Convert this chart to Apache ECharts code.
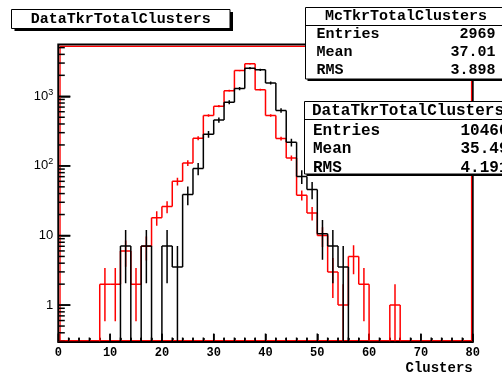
<!DOCTYPE html>
<html><head><meta charset="utf-8">
<script src="https://cdn.jsdelivr.net/npm/echarts@6/dist/echarts.min.js"></script>
<style>html,body{margin:0;padding:0;background:#fff}#c{width:502px;height:375px}</style>
</head><body><div id="c"></div>
<script>
// ---- data ----
const binStarts = [0,2,4,6,8,10,12,14,16,18,20,22,24,26,28,30,32,34,36,38,
                   40,42,44,46,48,50,52,54,56,58,60,62,64,66,68,70,72,74,76,78];
const binWidth = 2;
// black histogram
const blackCounts = [0,0,0,0,0,0,7.05,0,7.05,0,7.05,3.52,38.8,91.6,285,455,821,1289,2537,2399,
                     1550,627,218,70.5,45.8,10.6,7.05,3.52,0,0,0,0,0,0,0,0,0,0,0,0];
// red histogram
const redCounts = [0,0,0,0,2,2,6,2,7,18,26,60,110,250,531,721,1205,2345,2924,1245,
                   531,247,130,38,21,10,3,1,5,2,0,0,1,0,0,0,0,0,0,0];
const blackWeight = 10460 / 2969;   // per-entry weight of the black histogram
const redWeight = 1;
const xTicks = [0,10,20,30,40,50,60,70,80];
const xMinorTicks = [2,4,6,8,12,14,16,18,22,24,26,28,32,34,36,38,42,44,46,48,
                     52,54,56,58,62,64,66,68,72,74,76,78];
const yMajorTicks = [1,10,100,1000];
const yMinorTicks = [0.3,0.4,0.5,0.6,0.7,0.8,0.9,2,3,4,5,6,7,8,9,20,30,40,50,60,70,80,90,
                     200,300,400,500,600,700,800,900,2000,3000,4000,5000];
const titleText = 'DataTkrTotalClusters';
const mcStats = {name:'McTkrTotalClusters', rows:[['Entries','2969'],['Mean','37.01'],['RMS','3.898']]};
const dataStats = {name:'DataTkrTotalClusters', rows:[['Entries','10460'],['Mean','35.49'],['RMS','4.191']]};

const Y_MIN = 0.295, Y_MAX = 5545;
const MONO = '"Liberation Mono","DejaVu Sans Mono",monospace';
const SANS = '"Liberation Sans",Arial,sans-serif';

function lineEl(x1, y1, x2, y2, color, w) {
  return {type: 'line', shape: {x1: x1, y1: y1, x2: x2, y2: y2}, style: {stroke: color, lineWidth: w}};
}
function barEl(x, y, w, h) {
  return {type: 'rect', shape: {x: x, y: y, width: w, height: h}, style: {fill: '#000'}};
}

function histSeries(name, counts, color, weight, z) {
  const data = counts.map((v, i) => [binStarts[i], binStarts[i] + binWidth, v,
      i > 0 ? counts[i-1] : 0]);
  return {
    type: 'custom', name, data, z, clip: true,
    encode: {x: [0, 1], y: 2},
    renderItem(params, api) {
      const x0 = api.value(0), x1 = api.value(1), v = api.value(2), pv = api.value(3);
      const bottom = api.coord([x0, Y_MIN])[1];
      const yOf = val => val > 0 ? api.coord([x0, Math.max(val, Y_MIN)])[1] : bottom;
      const px0 = api.coord([x0, 1])[0], px1 = api.coord([x1, 1])[0];
      const yv = yOf(v), yp = yOf(pv);
      const kids = [
        lineEl(px0, yv, px1, yv, color, 1.5),
        lineEl(px0, yp, px0, yv, color, 1.5)
      ];
      if (v > 0) {
        const err = Math.sqrt(v * weight);
        const xc = (px0 + px1) / 2;
        kids.push(lineEl(xc, yOf(v - err), xc, yOf(v + err), color, 1.5));
      }
      return {type: 'group', children: kids};
    }
  };
}

function statsBox(s, left, top, right, divY, rowYs, valRight, fontSize, headerCx, labelX, headerY) {
  const w = right - left, h = rowYs.bottom - top;
  const font = 'bold ' + fontSize + 'px ' + MONO;
  const els = [
    {type: 'rect', z: 100, shape: {x: left + 2, y: top + 2, width: w, height: h}, style: {fill: '#000'}},
    {type: 'rect', z: 101, shape: {x: left, y: top, width: w, height: h}, style: {fill: '#fff', stroke: '#000', lineWidth: 1}},
    {type: 'line', z: 102, shape: {x1: left, y1: divY, x2: right, y2: divY}, style: {stroke: '#000', lineWidth: 1}},
    {type: 'text', z: 103, style: {text: s.name, x: headerCx, y: headerY, textAlign: 'center', textVerticalAlign: 'middle', font, fill: '#000'}}
  ];
  s.rows.forEach((r, i) => {
    els.push({type: 'text', z: 103, style: {text: r[0], x: labelX, y: rowYs.ys[i], textAlign: 'left', textVerticalAlign: 'middle', font, fill: '#000'}});
    els.push({type: 'text', z: 103, style: {text: r[1], x: valRight, y: rowYs.ys[i], textAlign: 'right', textVerticalAlign: 'middle', font, fill: '#000'}});
  });
  return els;
}

const xMin = xTicks[0], xMax = xTicks[xTicks.length-1];

const chart = echarts.init(document.getElementById('c'), null, {renderer: 'canvas'});
const option = {
  animation: false,
  backgroundColor: '#fff',
  grid: {left: 58.3, right: 29.3, top: 44.5, bottom: 30.5, show: false},
  xAxis: {
    type: 'value', min: xMin, max: xMax, interval: 10,
    axisLine: {show: false},
    axisTick: {show: true, inside: true, length: 8, lineStyle: {color: '#000', width: 1.5}},
    minorTick: {show: true, splitNumber: 5, length: 4, lineStyle: {color: '#000', width: 1.5}},
    splitLine: {show: false},
    axisLabel: {margin: 5, color: '#000', fontFamily: MONO, fontWeight: 'bold', fontSize: 12},
    name: 'Clusters', nameLocation: 'end', nameGap: 0,
    nameTextStyle: {align: 'right', verticalAlign: 'top', padding: [19, 0, 0, 0], color: '#000', fontFamily: MONO, fontWeight: 'bold', fontSize: 14}
  },
  yAxis: {
    type: 'log', logBase: 10, min: Y_MIN, max: Y_MAX,
    axisLine: {show: false},
    axisTick: {show: true, inside: true, length: 12, lineStyle: {color: '#000', width: 1.5}},
    splitLine: {show: false},
    axisLabel: {
      margin: 5, showMinLabel: false, showMaxLabel: false, color: '#000',
      formatter: v => {
        const e = Math.round(Math.log10(v));
        if (Math.abs(Math.log10(v) - e) > 1e-6) return '';
        if (e === 0) return '{b|1}';
        if (e === 1) return '{b|10}';
        return '{b|10}{s|' + e + '}';
      },
      rich: {
        b: {fontFamily: SANS, fontSize: 13, lineHeight: 13, verticalAlign: 'bottom', color: '#000'},
        s: {fontFamily: SANS, fontSize: 9, lineHeight: 9, padding: [0, 0, 6, 0], verticalAlign: 'bottom', color: '#000'}
      }
    }
  },
  series: [
    {
      type: 'custom', clip: false,
      data: [[xMin, Y_MIN]],
      encode: {x: 0, y: 1},
      renderItem(params, api) {
        const a = api.coord([xMin, Y_MAX]);
        const b = api.coord([xMax, Y_MIN]);
        const kids = [
          {type: 'rect', shape: {x: a[0], y: a[1], width: b[0] - a[0], height: b[1] - a[1]},
           style: {stroke: '#000', fill: null, lineWidth: 2}},
          {type: 'rect', shape: {x: a[0] + 1.8, y: a[1] + 1.8, width: b[0] - a[0] - 3, height: b[1] - a[1] - 3.3},
           style: {stroke: '#ff0000', fill: null, lineWidth: 1.2}}
        ];
        yMajorTicks.forEach(v => {
          const y = api.coord([xMin, v])[1];
          kids.push(barEl(a[0], y - 0.75, 12, 1.5));
        });
        yMinorTicks.forEach(v => {
          const y = api.coord([xMin, v])[1];
          kids.push(barEl(a[0], y - 0.75, 6.5, 1.5));
        });
        xTicks.forEach(v => {
          const x = api.coord([v, Y_MIN])[0];
          kids.push(barEl(x - 0.75, b[1] - 8.5, 1.5, 8.5));
        });
        xMinorTicks.forEach(v => {
          const x = api.coord([v, Y_MIN])[0];
          kids.push(barEl(x - 0.75, b[1] - 4.5, 1.5, 4.5));
        });
        return {type: 'group', children: kids};
      }
    },
    histSeries('red', redCounts, '#ff0000', redWeight, 10),
    histSeries('black', blackCounts, '#000000', blackWeight, 11)
  ],
  graphic: [
    {type: 'rect', z: 100, shape: {x: 14.5, y: 12, width: 218.5, height: 19}, style: {fill: '#000'}},
    {type: 'rect', z: 101, shape: {x: 11.5, y: 9.5, width: 218.5, height: 19}, style: {fill: '#fff', stroke: '#000', lineWidth: 1}},
    {type: 'text', z: 102, style: {text: titleText, x: 120.7, y: 19.2, textAlign: 'center', textVerticalAlign: 'middle', font: 'bold 15px ' + MONO, fill: '#000'}}
  ]
  .concat(statsBox(mcStats, 305.5, 7.5, 507, 25.5, {ys: [34.5, 52, 70], bottom: 79}, 495.5, 15, 406, 316.5, 16.5))
  .concat(statsBox(dataStats, 304.5, 101.5, 512, 119.5, {ys: [130.5, 149, 167.5], bottom: 174}, 508.5, 16, 408, 313, 111))
};
chart.setOption(option);
</script>
</body></html>
